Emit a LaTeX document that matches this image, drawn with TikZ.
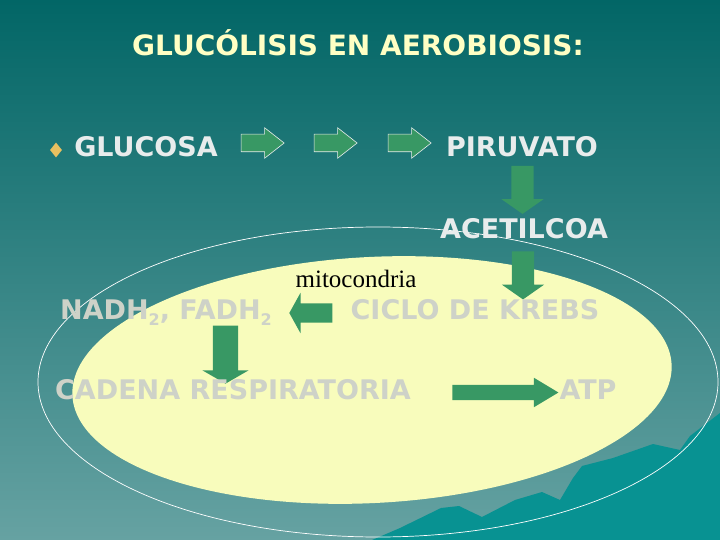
\documentclass[tikz,border=0pt]{standalone}
\usepackage{fontspec}
\setmainfont{DejaVu Sans}
\newfontfamily\mitofont{Liberation Serif}
\usetikzlibrary{shapes.arrows,shapes.geometric}
\definecolor{bgtop}{RGB}{2,102,102}
\definecolor{bgbottom}{RGB}{102,162,162}
\definecolor{hillcol}{RGB}{8,146,146}
\definecolor{mitoyellow}{RGB}{248,252,188}
\definecolor{titlecol}{RGB}{255,255,196}
\definecolor{labelcol}{RGB}{232,236,236}
\definecolor{inlabelcol}{RGB}{206,210,200}
\definecolor{arrowgreen}{RGB}{56,152,100}
\definecolor{bulletcol}{RGB}{232,192,96}
\tikzset{
  toplabel/.style={text=labelcol, font=\bfseries\fontsize{27}{30}\selectfont, anchor=base, inner sep=0pt},
  inlabel/.style={text=inlabelcol, font=\bfseries\fontsize{27}{30}\selectfont, anchor=base, inner sep=0pt},
  greenarrow/.style={single arrow, fill=arrowgreen, inner xsep=0pt, outer sep=0pt, single arrow head indent=0pt},
  openarrow/.style={greenarrow, draw=labelcol, line width=0.6pt, inner ysep=8.5pt, single arrow head extend=6.5pt, single arrow tip angle=76, minimum height=43pt},
  downarrow/.style={greenarrow, shape border rotate=270, inner ysep=0pt, inner xsep=11pt, single arrow head extend=10pt, single arrow tip angle=110, minimum height=48pt}
}
\newcommand{\subtwo}{\raisebox{-0.25em}{\fontsize{16}{16}\selectfont 2}}
\begin{document}
\begin{tikzpicture}[x=1pt,y=-1pt]
  \useasboundingbox (0,0) rectangle (720,540);
  \shade [top color=bgtop, bottom color=bgbottom] (0,0) rectangle (720,540);
  \fill [hillcol] (372,540) -- (400,528) -- (441,508) -- (459,506) -- (482,517) -- (515,500) -- (542,492) -- (560,500) -- (573,478) -- (582,466) -- (613,458) -- (653,444) -- (680,450) -- (690,436) -- (707,423) -- (720,413) -- (720,540) -- cycle;
  \draw [white, line width=0.7pt] (378,382) ellipse [x radius=340, y radius=155];
  \fill [mitoyellow, rotate around={3:(372,380)}] (372,380) ellipse [x radius=300, y radius=123];

  \node [text=titlecol, font=\bfseries\fontsize{28}{32}\selectfont, anchor=base, inner sep=0pt] (title) at (358,56) {GLUCÓLISIS EN AEROBIOSIS:};
  \node [diamond, fill=bulletcol, inner sep=0pt, minimum width=12pt, minimum height=15pt] (bullet) at (56,150) {};
  \node [toplabel] (glucosa) at (146,157) {GLUCOSA};
  \node [openarrow] (g1) at (257,143) {};
  \node [openarrow] (g2) at (330,143) {};
  \node [openarrow] (g3) at (404,143) {};
  \node [toplabel] (piruvato) at (522,157) {PIRUVATO};
  \node [downarrow] (p1) at (522.5,186) {};
  \node [toplabel] (acetilcoa) at (524,238) {ACETILCOA};
  \node [downarrow] (p2) at (523,271.5) {};
  \node [font=\mitofont\fontsize{25}{28}\selectfont, anchor=base, inner sep=0pt] (mito) at (356,287) {mitocondria};

  \node [inlabel] (krebs) at (475,319) {CICLO DE KREBS};
  \node [greenarrow, shape border rotate=180, inner ysep=9.5pt, single arrow head extend=10.5pt, single arrow tip angle=122, minimum height=43pt] (k1) at (313.5,313) {};
  \node [inlabel] (nadh) at (166,319) {NADH\subtwo, FADH\subtwo};
  \node [greenarrow, shape border rotate=270, inner ysep=0pt, inner xsep=12.5pt, single arrow head extend=10.5pt, single arrow tip angle=120, minimum height=58pt] (n1) at (225.5,351) {};
  \node [inlabel] (cadena) at (233,399) {CADENA RESPIRATORIA};
  \node [greenarrow, inner ysep=7.5pt, single arrow head extend=7pt, single arrow tip angle=62, minimum height=106pt] (c1) at (499,392.5) {};
  \node [inlabel] (atp) at (588,399) {ATP};
\end{tikzpicture}
\end{document}
